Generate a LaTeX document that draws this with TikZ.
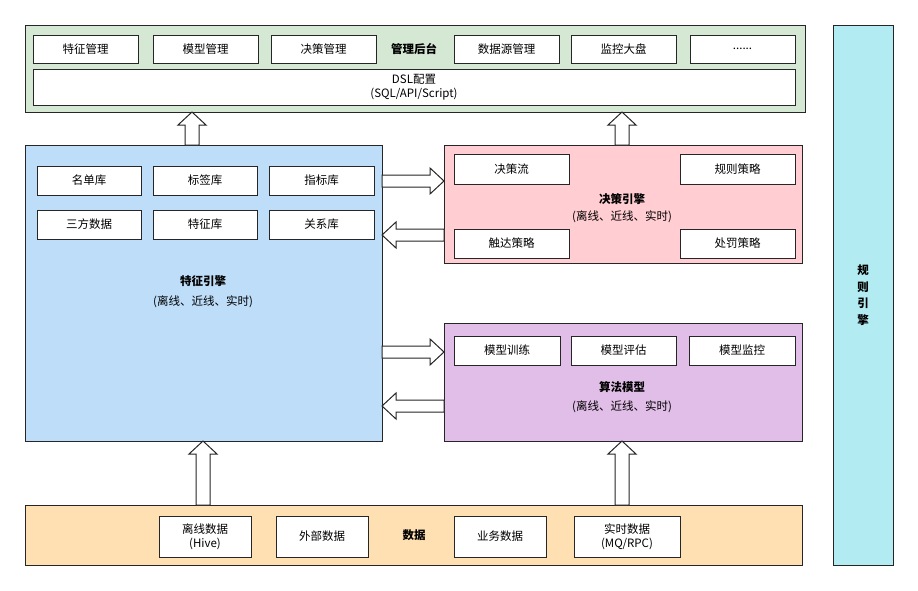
\documentclass[tikz,border=0pt]{standalone}
\usepackage{fontspec}
\setmainfont{Noto Sans CJK SC}
\usetikzlibrary{calc}
\definecolor{cg}{HTML}{D5E8D4}
\definecolor{cb}{HTML}{BDDDF8}
\definecolor{cp}{HTML}{FFCDD2}
\definecolor{cv}{HTML}{E1BEE7}
\definecolor{co}{HTML}{FFE0B2}
\definecolor{cc}{HTML}{B2EBF2}
\tikzset{
 box/.style={draw=black!85,line width=0.9pt,inner sep=0pt,align=center,font=\fontsize{11.5}{13.5}\selectfont},
 inner/.style={box,fill=white},
 lbl/.style={font=\fontsize{11.5}{13.5}\selectfont\bfseries,align=center},
 sub/.style={font=\fontsize{11.5}{13.5}\selectfont,align=center},
 barr/.style={draw=black!85,line width=1pt,fill=white}
}
\newcommand{\bx}[7]{\node[#1,minimum width={#4-#2},minimum height={#5-#3}] (#6) at ({(#2+#4)/2},{(#3+#5)/2}) {#7};}
\newcommand{\uparr}[3]{\draw[barr] (#1-7,#2) -- (#1-7,#3+13) -- (#1-14,#3+13) -- (#1,#3) -- (#1+14,#3+13) -- (#1+7,#3+13) -- (#1+7,#2) -- cycle;}
\newcommand{\rarr}[3]{\draw[barr] (#1,#3-6) -- (#2-14,#3-6) -- (#2-14,#3-13) -- (#2,#3) -- (#2-14,#3+13) -- (#2-14,#3+6) -- (#1,#3+6) -- cycle;}
\newcommand{\larr}[3]{\draw[barr] (#1,#3-6) -- (#2+14,#3-6) -- (#2+14,#3-13) -- (#2,#3) -- (#2+14,#3+13) -- (#2+14,#3+6) -- (#1,#3+6) -- cycle;}
\begin{document}
\begin{tikzpicture}[x=1pt,y=-1pt]
\useasboundingbox (0,0) rectangle (918,590);
\bx{box,fill=cg}{25}{25}{805}{112}{mg}{}
\bx{inner}{33}{35}{138}{63}{m1}{特征管理}
\bx{inner}{153}{35}{258}{63}{m2}{模型管理}
\bx{inner}{271}{35}{376}{63}{m3}{决策管理}
\node[lbl] (mgl) at (414,49) {管理后台};
\bx{inner}{454}{35}{559}{63}{m4}{数据源管理}
\bx{inner}{571}{35}{676}{63}{m5}{监控大盘}
\bx{inner}{690}{35}{795}{63}{m6}{......}
\bx{inner}{33}{69}{795}{105}{dsl}{DSL配置\\(SQL/API/Script)}
\bx{box,fill=cc}{833}{25}{893}{565}{re}{}
\node[lbl] (rel) at (863,295) {规\\[3pt]则\\[3pt]引\\[3pt]擎};
\bx{box,fill=cb}{25}{145}{382}{441}{fe}{}
\bx{inner}{37}{166}{141}{195}{f1}{名单库}
\bx{inner}{153}{166}{257}{195}{f2}{标签库}
\bx{inner}{269}{166}{374}{195}{f3}{指标库}
\bx{inner}{37}{210}{141}{239}{f4}{三方数据}
\bx{inner}{153}{210}{257}{239}{f5}{特征库}
\bx{inner}{269}{210}{374}{239}{f6}{关系库}
\node[lbl] (fel) at (203,281) {特征引擎};
\node[sub] (fes) at (203,302) {(离线、近线、实时)};
\bx{box,fill=cp}{444}{145}{802}{263}{de}{}
\bx{inner}{454}{154}{569}{184}{d1}{决策流}
\bx{inner}{680}{154}{795}{184}{d2}{规则策略}
\bx{inner}{454}{229}{569}{258}{d3}{触达策略}
\bx{inner}{680}{229}{795}{258}{d4}{处罚策略}
\node[lbl] (del) at (622,199) {决策引擎};
\node[sub] (des) at (622,217) {(离线、近线、实时)};
\bx{box,fill=cv}{444}{323}{802}{441}{am}{}
\bx{inner}{454}{336}{560}{365}{a1}{模型训练}
\bx{inner}{571}{336}{676}{365}{a2}{模型评估}
\bx{inner}{689}{336}{795}{365}{a3}{模型监控}
\node[lbl] (aml) at (622,387) {算法模型};
\node[sub] (ams) at (622,407) {(离线、近线、实时)};
\bx{box,fill=co}{25}{505}{802}{565}{da}{}
\bx{inner}{159}{516}{251}{557}{s1}{离线数据\\(Hive)}
\bx{inner}{276}{516}{368}{557}{s2}{外部数据}
\node[lbl] (dal) at (414,535) {数据};
\bx{inner}{454}{516}{546}{557}{s3}{业务数据}
\bx{inner}{574}{516}{680}{557}{s4}{实时数据\\(MQ/RPC)}
\uparr{192}{145}{112}
\uparr{622}{145}{112}
\uparr{203}{505}{441}
\uparr{622}{505}{441}
\rarr{382}{444}{181}
\larr{444}{382}{235}
\rarr{382}{444}{352}
\larr{444}{382}{406}
\end{tikzpicture}
\end{document}
